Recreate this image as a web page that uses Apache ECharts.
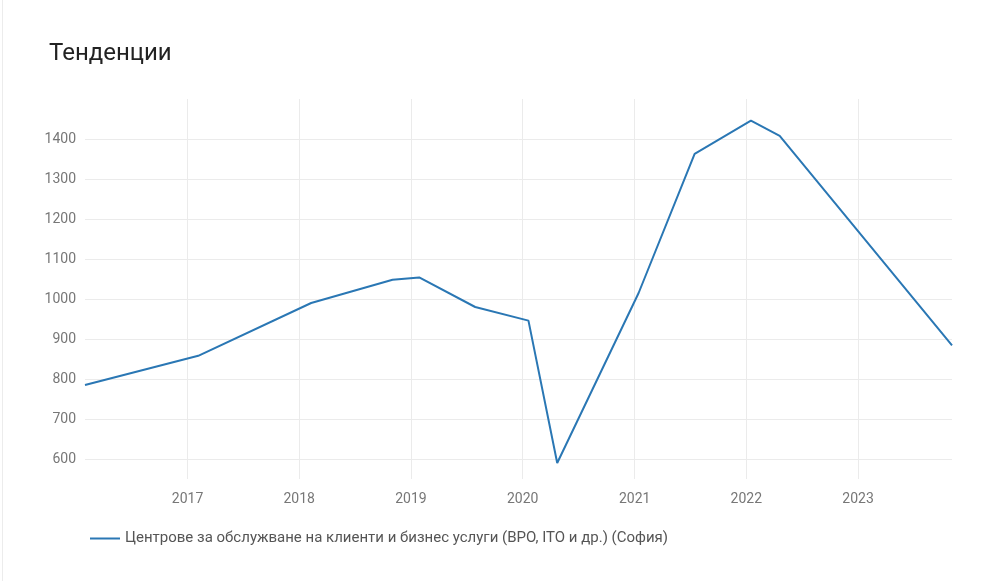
<!DOCTYPE html>
<html>
<head>
<meta charset="utf-8">
<script src="https://cdn.jsdelivr.net/npm/echarts@6/dist/echarts.min.js"></script>
<style>
  html, body { margin: 0; padding: 0; background: #fff; }
  #wrap { position: absolute; left: 2px; top: 0; width: 985px; height: 581px; border-left: 1px solid #ececec; }
  #chart { position: absolute; left: -3px; top: 0; width: 987px; height: 581px; }
</style>
</head>
<body>
<div id="wrap"><div id="chart"></div></div>
<script>
const seriesName = 'Центрове за обслужване на клиенти и бизнес услуги (BPO, ITO и др.) (София)';
const dates = ['2016-02-01','2017-02-05','2018-02-09','2018-11-02','2019-01-28','2019-07-30','2020-01-20','2020-04-23','2021-01-14','2021-07-16','2022-01-16','2022-04-20','2023-11-04'];
const values = [785, 858, 990, 1048, 1054, 980, 946, 590, 1015, 1363, 1446, 1408, 884];
const yMin = 550, yMax = 1500, yStep = 100;

const chart = echarts.init(document.getElementById('chart'), null, { renderer: 'canvas' });
const FONT = 'Roboto';
const DAY = 24 * 3600 * 1000;
chart.setOption({
  animation: false,
  textStyle: { fontFamily: FONT },
  title: {
    text: 'Тенденции', left: 44, top: 37,
    textStyle: { fontFamily: FONT, fontSize: 24, fontWeight: 'normal', color: '#222' }
  },
  legend: {
    left: 85, top: 526, itemWidth: 30, itemHeight: 2, itemGap: 10,
    icon: 'rect',
    textStyle: { fontFamily: FONT, fontSize: 15, color: '#555' },
    data: [seriesName]
  },
  grid: { left: 85, right: 35, top: 99, bottom: 102, containLabel: false },
  xAxis: {
    type: 'time',
    min: 'dataMin', max: 'dataMax',
    minInterval: 365 * DAY, maxInterval: 366 * DAY,
    axisLine: { show: false },
    axisTick: { show: false },
    splitLine: { show: true, showMinLine: false, showMaxLine: false, lineStyle: { color: '#ebebeb', width: 1 } },
    axisLabel: {
      color: '#777', fontSize: 14, fontFamily: FONT, margin: 13,
      showMinLabel: false, showMaxLabel: false,
      formatter: function (v) { return String(new Date(v).getFullYear()); }
    }
  },
  yAxis: {
    type: 'value', min: yMin, max: yMax,
    minInterval: yStep, maxInterval: yStep,
    axisLine: { show: false },
    axisTick: { show: false },
    splitLine: { show: true, showMinLine: false, showMaxLine: false, lineStyle: { color: '#ebebeb', width: 1 } },
    axisLabel: {
      color: '#777', fontSize: 14, fontFamily: FONT, margin: 9,
      showMinLabel: false, showMaxLabel: false,
      formatter: function (v) { return (v % 100 === 0 && v < yMax) ? String(v) : ''; }
    }
  },
  series: [{
    name: seriesName,
    type: 'line',
    data: dates.map((d, i) => [d, values[i]]),
    showSymbol: false,
    symbol: 'none',
    lineStyle: { color: '#2a77b4', width: 2 },
    itemStyle: { color: '#2a77b4' }
  }]
});
</script>
</body>
</html>
